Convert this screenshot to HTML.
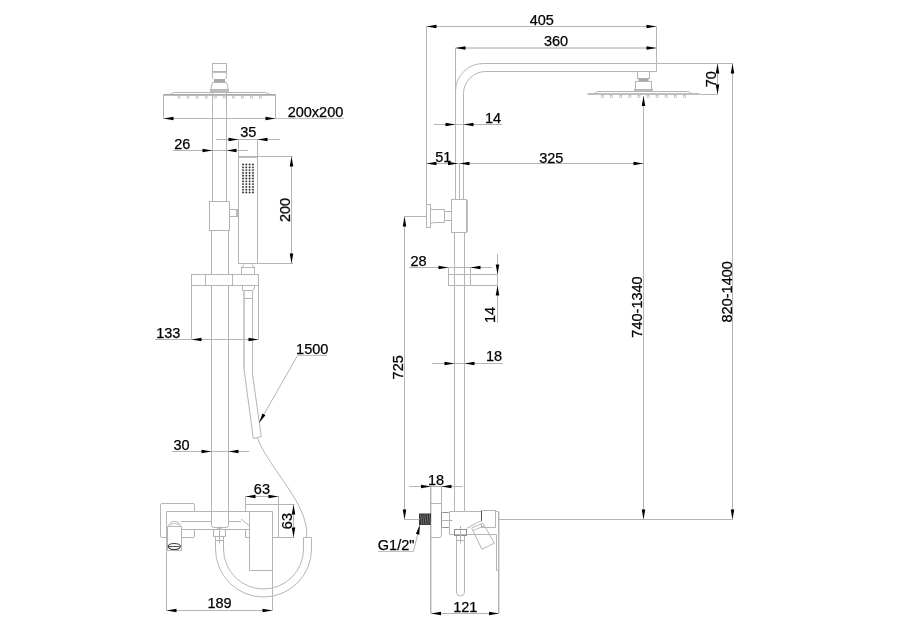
<!DOCTYPE html>
<html><head><meta charset="utf-8"><style>
html,body{margin:0;padding:0;background:#fff;}
svg{display:block;}
.g{fill:none;stroke:#b5b5b5;stroke-width:1;}
.g2{fill:none;stroke:#c0c0c0;stroke-width:1;}
.g3{fill:none;stroke:#c8c8c8;stroke-width:0.6;}
.gp{fill:none;stroke:#a8a8a8;stroke-width:1.6;}
.gf2{fill:#a8a8a8;stroke:none;}
.d2{fill:none;stroke:#909090;stroke-width:1;}
.g4{fill:none;stroke:#a4a4a4;stroke-width:1;}
.gf{fill:#c0c0c0;stroke:#b5b5b5;stroke-width:1;}
.gn{fill:none;stroke:#b8b8b8;stroke-width:0.7;}
.d{fill:none;stroke:#404040;stroke-width:1.2;}
.d1{fill:none;stroke:#505050;stroke-width:1;}
.w{fill:none;stroke:#999;stroke-width:0.6;}
.dot{fill:#333;}
.a{fill:#000;stroke:none;}
text{font-family:"Liberation Sans",sans-serif;fill:#000;stroke:#000;stroke-width:0.25;text-anchor:middle;}
svg{-webkit-font-smoothing:antialiased;will-change:transform;}
</style></head><body>
<svg width="900" height="630" viewBox="0 0 900 630">
<rect x="212.5" y="63.5" width="14.0" height="8.0" class="g"/>
<line x1="212.5" y1="72.5" x2="226.5" y2="72.5" class="g2"/>
<path d="M212.5,72 Q212,75.5 213,79 M226.5,72 Q227,75.5 226,79" class="g"/>
<rect x="214" y="79" width="11" height="3.5" class="gf2"/>
<path d="M212.5,82.5 H226.5 M212.5,82.5 Q211,86 211,89.5 M226.5,82.5 Q228,86 228,89.5" class="g"/>
<rect x="210.5" y="89.5" width="18.0" height="2.5" class="gf"/>
<path d="M170.5,94 L173.5,92.5 H265.5 L269.5,94" class="g"/>
<line x1="163.5" y1="94.9" x2="275.5" y2="94.9" class="gp"/>
<line x1="163.5" y1="94.5" x2="163.5" y2="118.5" class="g"/>
<line x1="275.5" y1="94.5" x2="275.5" y2="118.5" class="g"/>
<rect x="178.0" y="96" width="2.0" height="2" class="gn"/>
<rect x="187.05" y="96" width="2.0" height="2" class="gn"/>
<rect x="196.1" y="96" width="2.0" height="2" class="gn"/>
<rect x="205.15" y="96" width="2.0" height="2" class="gn"/>
<rect x="214.2" y="96" width="2.0" height="2" class="gn"/>
<rect x="223.25" y="96" width="2.0" height="2" class="gn"/>
<rect x="232.3" y="96" width="2.0" height="2" class="gn"/>
<rect x="241.35000000000002" y="96" width="2.0" height="2" class="gn"/>
<rect x="250.4" y="96" width="2.0" height="2" class="gn"/>
<rect x="259.45" y="96" width="2.0" height="2" class="gn"/>
<line x1="212.5" y1="92" x2="212.5" y2="201.5" class="g"/>
<line x1="226.5" y1="92" x2="226.5" y2="201.5" class="g"/>
<rect x="209.5" y="201.5" width="20.0" height="29.0" class="g"/>
<rect x="229.5" y="209.5" width="9.0" height="7.0" class="g"/>
<rect x="236" y="210" width="2.5" height="6" fill="#b8b8b8"/>
<path d="M211.5,230.5 V274.5 M211.5,285.5 V511.5 M228.5,230.5 V274.5 M228.5,285.5 V511.5" class="g"/>
<rect x="238.5" y="156.5" width="19.0" height="107.0" class="g"/>
<line x1="238.5" y1="157.5" x2="257.5" y2="157.5" class="g2"/>
<line x1="243" y1="164.5" x2="243" y2="192.5" class="g3"/>
<line x1="246.3" y1="164.5" x2="246.3" y2="192.5" class="g3"/>
<line x1="249.6" y1="164.5" x2="249.6" y2="192.5" class="g3"/>
<line x1="253" y1="164.5" x2="253" y2="192.5" class="g3"/>
<line x1="243" y1="164.5" x2="253" y2="164.5" class="g3"/>
<line x1="243" y1="167.3" x2="253" y2="167.3" class="g3"/>
<line x1="243" y1="170.1" x2="253" y2="170.1" class="g3"/>
<line x1="243" y1="172.9" x2="253" y2="172.9" class="g3"/>
<line x1="243" y1="175.7" x2="253" y2="175.7" class="g3"/>
<line x1="243" y1="178.5" x2="253" y2="178.5" class="g3"/>
<line x1="243" y1="181.3" x2="253" y2="181.3" class="g3"/>
<line x1="243" y1="184.1" x2="253" y2="184.1" class="g3"/>
<line x1="243" y1="186.9" x2="253" y2="186.9" class="g3"/>
<line x1="243" y1="189.7" x2="253" y2="189.7" class="g3"/>
<line x1="243" y1="192.5" x2="253" y2="192.5" class="g3"/>
<circle cx="243" cy="164.5" r="0.9" class="dot"/>
<circle cx="243" cy="167.3" r="0.9" class="dot"/>
<circle cx="243" cy="170.1" r="0.9" class="dot"/>
<circle cx="243" cy="172.9" r="0.9" class="dot"/>
<circle cx="243" cy="175.7" r="0.9" class="dot"/>
<circle cx="243" cy="178.5" r="0.9" class="dot"/>
<circle cx="243" cy="181.3" r="0.9" class="dot"/>
<circle cx="243" cy="184.1" r="0.9" class="dot"/>
<circle cx="243" cy="186.9" r="0.9" class="dot"/>
<circle cx="243" cy="189.7" r="0.9" class="dot"/>
<circle cx="243" cy="192.5" r="0.9" class="dot"/>
<circle cx="246.3" cy="164.5" r="0.9" class="dot"/>
<circle cx="246.3" cy="167.3" r="0.9" class="dot"/>
<circle cx="246.3" cy="170.1" r="0.9" class="dot"/>
<circle cx="246.3" cy="172.9" r="0.9" class="dot"/>
<circle cx="246.3" cy="175.7" r="0.9" class="dot"/>
<circle cx="246.3" cy="178.5" r="0.9" class="dot"/>
<circle cx="246.3" cy="181.3" r="0.9" class="dot"/>
<circle cx="246.3" cy="184.1" r="0.9" class="dot"/>
<circle cx="246.3" cy="186.9" r="0.9" class="dot"/>
<circle cx="246.3" cy="189.7" r="0.9" class="dot"/>
<circle cx="246.3" cy="192.5" r="0.9" class="dot"/>
<circle cx="249.6" cy="164.5" r="0.9" class="dot"/>
<circle cx="249.6" cy="167.3" r="0.9" class="dot"/>
<circle cx="249.6" cy="170.1" r="0.9" class="dot"/>
<circle cx="249.6" cy="172.9" r="0.9" class="dot"/>
<circle cx="249.6" cy="175.7" r="0.9" class="dot"/>
<circle cx="249.6" cy="178.5" r="0.9" class="dot"/>
<circle cx="249.6" cy="181.3" r="0.9" class="dot"/>
<circle cx="249.6" cy="184.1" r="0.9" class="dot"/>
<circle cx="249.6" cy="186.9" r="0.9" class="dot"/>
<circle cx="249.6" cy="189.7" r="0.9" class="dot"/>
<circle cx="249.6" cy="192.5" r="0.9" class="dot"/>
<circle cx="253" cy="164.5" r="0.9" class="dot"/>
<circle cx="253" cy="167.3" r="0.9" class="dot"/>
<circle cx="253" cy="170.1" r="0.9" class="dot"/>
<circle cx="253" cy="172.9" r="0.9" class="dot"/>
<circle cx="253" cy="175.7" r="0.9" class="dot"/>
<circle cx="253" cy="178.5" r="0.9" class="dot"/>
<circle cx="253" cy="181.3" r="0.9" class="dot"/>
<circle cx="253" cy="184.1" r="0.9" class="dot"/>
<circle cx="253" cy="186.9" r="0.9" class="dot"/>
<circle cx="253" cy="189.7" r="0.9" class="dot"/>
<circle cx="253" cy="192.5" r="0.9" class="dot"/>
<path d="M244.5,263.5 Q243.5,266 241.5,267.5 H254.5 Q252.5,266 251.5,263.5" class="g"/>
<rect x="241.5" y="267.5" width="13.0" height="7.0" class="g"/>
<rect x="191.5" y="274.5" width="67.0" height="11.0" class="g"/>
<line x1="205.5" y1="274.5" x2="205.5" y2="285.5" class="g"/>
<line x1="232.5" y1="274.5" x2="232.5" y2="285.5" class="g"/>
<path d="M242.5,285.5 V290.5 H252.5 L254.5,288 V285.5" class="g"/>
<path d="M244,290.5 V369 L253.3,438.5 L261.3,436.5 L252.6,375 V290.5" class="g"/>
<line x1="244" y1="290.5" x2="244" y2="369" class="g2"/>
<line x1="244" y1="298.5" x2="252.6" y2="298.5" class="g"/>
<path d="M257.4,438 C269.8,470.1 310.1,505.3 306.5,537.5" class="g"/>
<rect x="160.5" y="503.5" width="34.0" height="34.0" class="g" rx="1.5"/>
<rect x="245.5" y="504.5" width="33.0" height="33.0" class="g"/>
<rect x="167" y="512" width="82" height="17" fill="#fff" stroke="none"/>
<path d="M166.5,511.5 H249.5 M166.5,529.5 H249.5 M166.5,521.5 H211.5 M228.5,521.5 H241" class="g"/>
<path d="M241,519 L249,525.5" class="g"/>
<path d="M245.5,530 V537.5 H249.5" class="g"/>
<path d="M211.5,511.5 V525 Q211.5,527.5 214,527.5 H226 Q228.5,527.5 228.5,525 V511.5" class="g"/>
<path d="M213.5,529.5 V536.5 H225.5 V529.5 M213.5,530 Q219.5,527 225.5,530" class="g"/>
<line x1="219.5" y1="526.5" x2="219.5" y2="543.5" class="g"/>
<line x1="215.5" y1="540.5" x2="223.5" y2="540.5" class="g"/>
<rect x="167" y="521" width="14" height="29" fill="#fff" stroke="none"/>
<path d="M167.5,550.5 V526.5 H181.5 V550.5 H167.5 M168.5,526.5 Q169.5,521.5 174.5,521.5 Q179.5,521.5 180.5,526.5" class="g"/>
<path d="M170,524.5 Q174.5,522.5 179,524.5" class="g2"/>
<ellipse cx="174.3" cy="546.5" rx="6" ry="3" class="d"/>
<line x1="169" y1="546.5" x2="179.5" y2="546.5" class="d1"/>
<line x1="166.5" y1="511.5" x2="166.5" y2="610.5" class="g"/>
<rect x="249.5" y="511.5" width="23" height="59" fill="#fff" stroke="none"/>
<path d="M249.5,570.5 V511.5 H272.5 V610.5 M249.5,570.5 H272.5" class="g"/>
<path d="M215.5,536.5 V549 A48,48 0 0 0 311.5,549 V537.5 H303.5 V549 A40,40 0 0 1 223.5,549 V536.5" class="g"/>
<line x1="163.5" y1="118.5" x2="275.5" y2="118.5" class="g"/>
<line x1="275.5" y1="118.5" x2="344" y2="118.5" class="g2"/>
<polygon points="163.5,118.5 173.5,116.75 173.5,120.25" class="a"/>
<polygon points="275.5,118.5 265.5,116.75 265.5,120.25" class="a"/>
<text x="315.5" y="117" font-size="14.5">200x200</text>
<line x1="173" y1="150.5" x2="248" y2="150.5" class="g"/>
<polygon points="212.5,150.5 202.5,148.75 202.5,152.25" class="a"/>
<polygon points="226.5,150.5 236.5,148.75 236.5,152.25" class="a"/>
<text x="182.3" y="148.7" font-size="14.5">26</text>
<line x1="216" y1="139.5" x2="280" y2="139.5" class="g"/>
<polygon points="238.5,139.5 228.5,137.75 228.5,141.25" class="a"/>
<polygon points="257.5,139.5 267.5,137.75 267.5,141.25" class="a"/>
<line x1="238.5" y1="139.5" x2="238.5" y2="156.5" class="g"/>
<line x1="257.5" y1="139.5" x2="257.5" y2="156.5" class="g"/>
<text x="248.2" y="137.3" font-size="14.5">35</text>
<line x1="257.5" y1="156.5" x2="293" y2="156.5" class="g"/>
<line x1="257.5" y1="263.5" x2="293" y2="263.5" class="g"/>
<line x1="291.5" y1="156.5" x2="291.5" y2="263.5" class="g"/>
<polygon points="291.5,156.5 289.75,166.5 293.25,166.5" class="a"/>
<polygon points="291.5,263.5 289.75,253.5 293.25,253.5" class="a"/>
<text x="0" y="0" font-size="14.5" transform="translate(289.6,210) rotate(-90)">200</text>
<line x1="155" y1="339.5" x2="258.5" y2="339.5" class="g"/>
<line x1="191.5" y1="285.5" x2="191.5" y2="339.5" class="g"/>
<line x1="258.5" y1="285.5" x2="258.5" y2="339.5" class="g"/>
<polygon points="191.5,339.5 201.5,337.75 201.5,341.25" class="a"/>
<polygon points="258.5,339.5 248.5,337.75 248.5,341.25" class="a"/>
<text x="168.3" y="337.6" font-size="14.5">133</text>
<path d="M327,355.5 H297.5" class="g2"/>
<path d="M297.5,355.5 L259,423" class="g"/>
<polygon points="259,423 262.43,413.45 265.47,415.18" class="a"/>
<text x="312.2" y="353.8" font-size="14.5">1500</text>
<line x1="172" y1="451.5" x2="249" y2="451.5" class="g"/>
<polygon points="211.5,451.5 201.5,449.75 201.5,453.25" class="a"/>
<polygon points="228.5,451.5 238.5,449.75 238.5,453.25" class="a"/>
<text x="181.5" y="449.8" font-size="14.5">30</text>
<line x1="245.5" y1="496.5" x2="278.5" y2="496.5" class="g"/>
<line x1="245.5" y1="496.5" x2="245.5" y2="504.5" class="g"/>
<line x1="278.5" y1="496.5" x2="278.5" y2="504.5" class="g"/>
<polygon points="245.5,496.5 255.5,494.75 255.5,498.25" class="a"/>
<polygon points="278.5,496.5 268.5,494.75 268.5,498.25" class="a"/>
<text x="261.9" y="494.4" font-size="14.5">63</text>
<line x1="278.5" y1="504.5" x2="294.5" y2="504.5" class="g"/>
<line x1="278.5" y1="537.5" x2="294.5" y2="537.5" class="g"/>
<line x1="293.5" y1="504.5" x2="293.5" y2="537.5" class="g"/>
<polygon points="293.5,504.5 291.75,514.5 295.25,514.5" class="a"/>
<polygon points="293.5,537.5 291.75,527.5 295.25,527.5" class="a"/>
<text x="0" y="0" font-size="14.5" transform="translate(291.7,521.1) rotate(-90)">63</text>
<line x1="166.5" y1="610.5" x2="272.5" y2="610.5" class="g"/>
<polygon points="166.5,610.5 176.5,608.75 176.5,612.25" class="a"/>
<polygon points="272.5,610.5 262.5,608.75 262.5,612.25" class="a"/>
<text x="219.5" y="608.1" font-size="14.5">189</text>
<path d="M455.5,48 V90.8 A27.7,27.7 0 0 1 483.2,63.5 H656.5 V71.5 H485.7 A22.2,22.2 0 0 0 463.5,93.7 V199.5 M455.5,90 V199.5" class="g"/>
<line x1="459.5" y1="163.5" x2="459.5" y2="199.5" class="g"/>
<rect x="451.5" y="199.5" width="15.0" height="33.0" class="g"/>
<line x1="467.5" y1="200" x2="467.5" y2="232" class="g2"/>
<line x1="454.5" y1="232.5" x2="454.5" y2="511.5" class="g"/>
<line x1="464.5" y1="232.5" x2="464.5" y2="511.5" class="g"/>
<rect x="426.5" y="204.5" width="4.0" height="23.0" class="g"/>
<path d="M430.5,208.5 L432,209.5 H444.5 V222.5 H435 Q433,222.5 430.5,223.5" class="g"/>
<rect x="444.5" y="211.5" width="7.0" height="9.0" class="g"/>
<rect x="637.5" y="71.5" width="12.0" height="7.0" class="g"/>
<rect x="638.5" y="78.5" width="10.0" height="2.5" class="gf2"/>
<rect x="635.5" y="81.5" width="16.0" height="8.0" class="g"/>
<rect x="634.5" y="89.5" width="18.0" height="2.0" class="gf"/>
<path d="M594.5,93.5 L597.5,91.5 H688.5 L691.5,93.5" class="g"/>
<line x1="587.5" y1="94" x2="699.5" y2="94" class="gp"/>
<rect x="601.5" y="95.5" width="2.0" height="2.0" class="gn"/>
<rect x="610.6" y="95.5" width="2.0" height="2.0" class="gn"/>
<rect x="619.7" y="95.5" width="2.0" height="2.0" class="gn"/>
<rect x="628.8" y="95.5" width="2.0" height="2.0" class="gn"/>
<rect x="637.9" y="95.5" width="2.0" height="2.0" class="gn"/>
<rect x="647.0" y="95.5" width="2.0" height="2.0" class="gn"/>
<rect x="656.1" y="95.5" width="2.0" height="2.0" class="gn"/>
<rect x="665.2" y="95.5" width="2.0" height="2.0" class="gn"/>
<rect x="674.3" y="95.5" width="2.0" height="2.0" class="gn"/>
<rect x="683.4" y="95.5" width="2.0" height="2.0" class="gn"/>
<rect x="448.5" y="274.5" width="22.0" height="11.0" class="g"/>
<path d="M430.5,486.5 V613.5" class="g"/>
<line x1="431.5" y1="487" x2="431.5" y2="613" class="g3"/>
<path d="M441.5,486.5 V535 Q441.5,537.5 439,537.5 H430.5" class="g"/>
<line x1="430.5" y1="503.5" x2="441.5" y2="503.5" class="g"/>
<rect x="419" y="513.5" width="12" height="11.5" fill="#333"/>
<line x1="420.5" y1="514.5" x2="421.7" y2="524.5" class="w"/>
<line x1="422.7" y1="514.5" x2="423.9" y2="524.5" class="w"/>
<line x1="424.9" y1="514.5" x2="426.09999999999997" y2="524.5" class="w"/>
<line x1="427.1" y1="514.5" x2="428.3" y2="524.5" class="w"/>
<line x1="429.3" y1="514.5" x2="430.5" y2="524.5" class="w"/>
<rect x="441.5" y="512.5" width="8.0" height="15.0" class="d2" rx="1"/>
<line x1="441.5" y1="520.5" x2="452.5" y2="520.5" class="g"/>
<path d="M449.5,511.5 H481.5 M449.5,511.5 V534.5 H496.5 V570.5 H498.5" class="g"/>
<rect x="481.5" y="510.5" width="14.0" height="17.0" class="g"/>
<line x1="481.5" y1="511" x2="481.5" y2="523" class="d1"/>
<path d="M495.5,511.5 H498.5" class="g"/>
<line x1="498.5" y1="511.5" x2="498.5" y2="613.5" class="g"/>
<line x1="499.5" y1="512" x2="499.5" y2="613" class="g3"/>
<polygon points="466.5,528 472,524 481.5,521 484,523.2 471.6,527.9 466.5,535" fill="#fff" stroke="none"/>
<path d="M466.5,528.5 L472,525.5 Q476,522.5 481.5,521" class="g"/>
<rect x="454.5" y="529.5" width="12.0" height="6.0" class="d2"/>
<line x1="460.5" y1="526" x2="460.5" y2="543.5" class="g"/>
<line x1="456.5" y1="540.5" x2="464.5" y2="540.5" class="g"/>
<rect x="456.5" y="536" width="8" height="58" fill="#fff" stroke="none"/>
<path d="M456.5,536 V592 Q456.5,596 460.5,596 Q464.5,596 464.5,592 V536" class="g"/>
<line x1="460.5" y1="536" x2="460.5" y2="543.5" class="g"/>
<line x1="456.5" y1="540.5" x2="464.5" y2="540.5" class="g"/>
<polygon points="471.6,527.9 483,523.2 494.4,543.2 481.9,549.3" fill="#fff" class="g"/>
<line x1="473" y1="530.5" x2="484.3" y2="525.8" class="g2"/>
<line x1="426.5" y1="26.5" x2="656.5" y2="26.5" class="g"/>
<polygon points="426.5,26.5 436.5,24.75 436.5,28.25" class="a"/>
<polygon points="656.5,26.5 646.5,24.75 646.5,28.25" class="a"/>
<line x1="426.5" y1="26.5" x2="426.5" y2="204.5" class="g"/>
<line x1="656.5" y1="26.5" x2="656.5" y2="63.5" class="g"/>
<text x="541.8" y="24.6" font-size="14.5">405</text>
<line x1="455.5" y1="48" x2="656.5" y2="48" class="g4"/>
<polygon points="455.5,48 465.5,46.25 465.5,49.75" class="a"/>
<polygon points="656.5,48 646.5,46.25 646.5,49.75" class="a"/>
<text x="556" y="46" font-size="14.5">360</text>
<line x1="434" y1="124.5" x2="502" y2="124.5" class="g"/>
<polygon points="455.5,124.5 445.5,122.75 445.5,126.25" class="a"/>
<polygon points="463.5,124.5 473.5,122.75 473.5,126.25" class="a"/>
<text x="493" y="123.3" font-size="14.5">14</text>
<line x1="426.5" y1="163.5" x2="643.5" y2="163.5" class="g"/>
<polygon points="426.5,163.5 436.5,161.75 436.5,165.25" class="a"/>
<polygon points="458,163.5 448,161.75 448,165.25" class="a"/>
<polygon points="459.5,163.5 469.5,161.75 469.5,165.25" class="a"/>
<polygon points="643.5,163.5 633.5,161.75 633.5,165.25" class="a"/>
<text x="443.3" y="161.7" font-size="14.5">51</text>
<text x="551.3" y="163" font-size="14.5">325</text>
<line x1="643.5" y1="96" x2="643.5" y2="519.5" class="g"/>
<polygon points="643.5,96 641.75,106 645.25,106" class="a"/>
<polygon points="643.5,519.5 641.75,509.5 645.25,509.5" class="a"/>
<text x="0" y="0" font-size="14.5" transform="translate(642.4,307) rotate(-90)">740-1340</text>
<line x1="656.5" y1="63.5" x2="733" y2="63.5" class="g"/>
<line x1="732.5" y1="63.5" x2="732.5" y2="519.5" class="g"/>
<polygon points="732.5,63.5 730.75,73.5 734.25,73.5" class="a"/>
<polygon points="732.5,519.5 730.75,509.5 734.25,509.5" class="a"/>
<line x1="499" y1="519.5" x2="732.5" y2="519.5" class="g"/>
<text x="0" y="0" font-size="14.5" transform="translate(731.6,291.8) rotate(-90)">820-1400</text>
<line x1="699.5" y1="94.5" x2="718" y2="94.5" class="g"/>
<line x1="717.5" y1="63.5" x2="717.5" y2="94.5" class="g"/>
<polygon points="717.5,63.5 715.75,73.5 719.25,73.5" class="a"/>
<polygon points="717.5,94.5 715.75,84.5 719.25,84.5" class="a"/>
<text x="0" y="0" font-size="14.5" transform="translate(716.1,79.2) rotate(-90)">70</text>
<line x1="404.5" y1="216.5" x2="426.5" y2="216.5" class="g"/>
<line x1="404.5" y1="216.5" x2="404.5" y2="519.5" class="g"/>
<polygon points="404.5,216.5 402.75,226.5 406.25,226.5" class="a"/>
<polygon points="404.5,519.5 402.75,509.5 406.25,509.5" class="a"/>
<line x1="404.5" y1="519.5" x2="419.5" y2="519.5" class="g"/>
<text x="0" y="0" font-size="14.5" transform="translate(403,367.3) rotate(-90)">725</text>
<line x1="409" y1="267.5" x2="492" y2="267.5" class="g"/>
<polygon points="448.5,267.5 438.5,265.75 438.5,269.25" class="a"/>
<polygon points="470.5,267.5 480.5,265.75 480.5,269.25" class="a"/>
<line x1="448.5" y1="267.5" x2="448.5" y2="274.5" class="g"/>
<line x1="470.5" y1="267.5" x2="470.5" y2="274.5" class="g"/>
<text x="418.5" y="265.8" font-size="14.5">28</text>
<line x1="470.5" y1="274.5" x2="498" y2="274.5" class="g"/>
<line x1="470.5" y1="285.5" x2="498" y2="285.5" class="g"/>
<line x1="497.5" y1="254" x2="497.5" y2="323" class="g"/>
<polygon points="497.5,274.5 495.75,264.5 499.25,264.5" class="a"/>
<polygon points="497.5,285.5 495.75,295.5 499.25,295.5" class="a"/>
<text x="0" y="0" font-size="14.5" transform="translate(495.4,315) rotate(-90)">14</text>
<line x1="432" y1="363.5" x2="503" y2="363.5" class="g"/>
<polygon points="454.5,363.5 444.5,361.75 444.5,365.25" class="a"/>
<polygon points="464.5,363.5 474.5,361.75 474.5,365.25" class="a"/>
<text x="494" y="361.3" font-size="14.5">18</text>
<line x1="409" y1="486.5" x2="462.5" y2="486.5" class="g"/>
<polygon points="431,486.5 421,484.75 421,488.25" class="a"/>
<polygon points="441.5,486.5 451.5,484.75 451.5,488.25" class="a"/>
<text x="436" y="485" font-size="14.5">18</text>
<line x1="431" y1="613.5" x2="499" y2="613.5" class="g"/>
<polygon points="431,613.5 441,611.75 441,615.25" class="a"/>
<polygon points="499,613.5 489,611.75 489,615.25" class="a"/>
<text x="465.3" y="611.7" font-size="14.5">121</text>
<path d="M378,551.5 H413.5" class="g2"/>
<path d="M413.5,551.5 L419.8,525" class="g"/>
<polygon points="419.8,525 419.31,534.65 415.9,533.84" class="a"/>
<text x="396.1" y="549.7" font-size="14.5">G1/2"</text>
</svg>
</body></html>
